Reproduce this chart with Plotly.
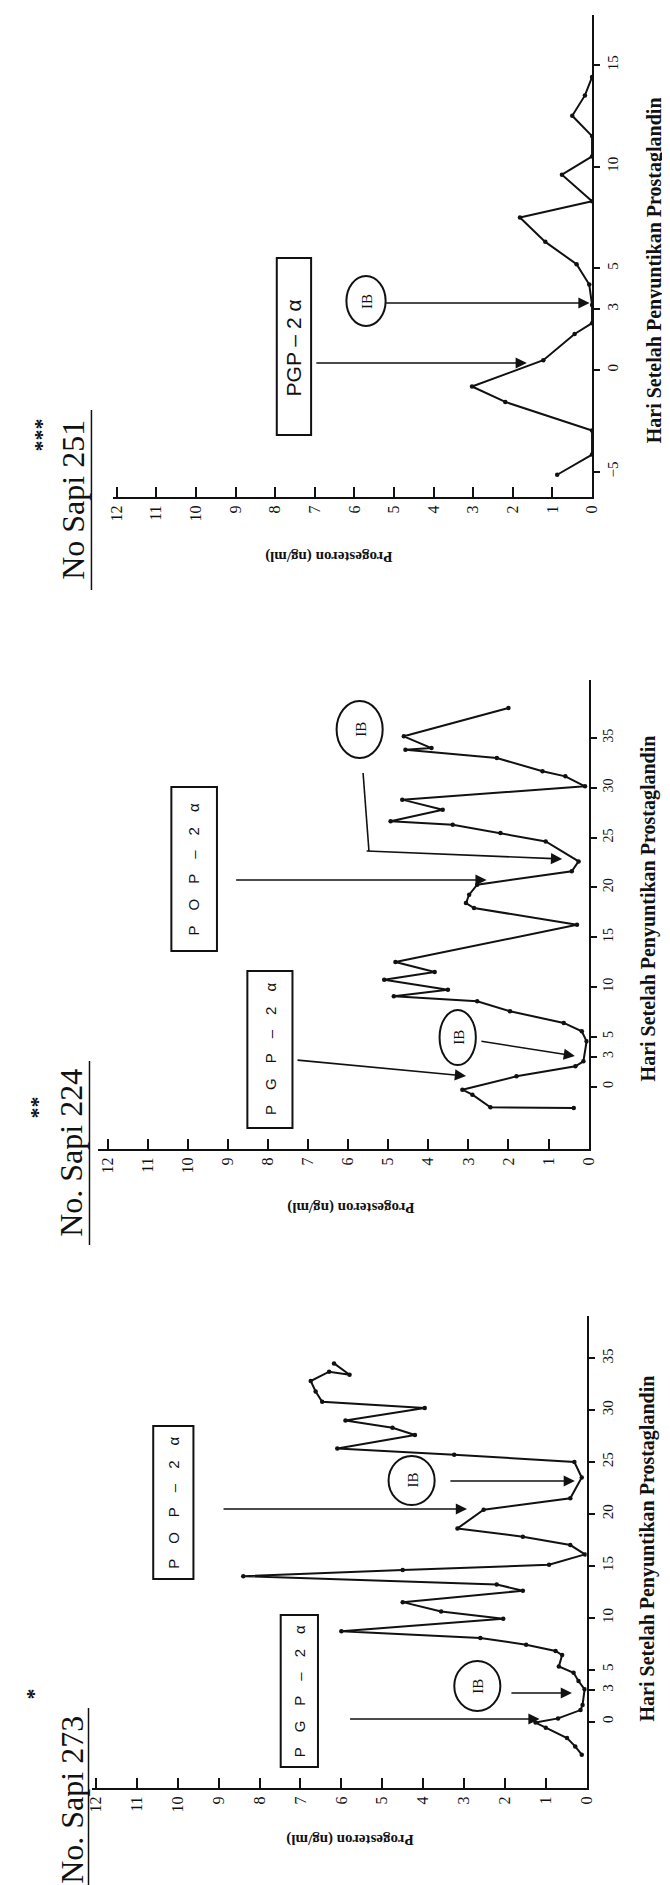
import plotly.graph_objects as go

W, H = 670, 1885

# ---------------- data (day after prostaglandin injection, progesterone ng/ml) -------------
days_251 = [-5.15, -4.16, -2.98, -1.57, -0.81, 0.48, 1.77, 2.3, 3.2, 4.2, 5.2, 6.3, 7.5,
            8.3, 9.6, 10.5, 11.5, 12.5, 13.5, 14.4]
prog_251 = [0.88, 0.0, 0.0, 2.19, 3.03, 1.23, 0.44, 0.0, 0.0, 0.07, 0.39, 1.18, 1.82,
            0.0, 0.76, 0.0, 0.0, 0.5, 0.18, 0.0]

days_224 = [-2.16, -2.09, -0.82, -0.32, 1.02, 2.03, 2.53, 4.54, 5.54, 6.38, 7.55, 8.55,
            9.06, 9.72, 10.72, 11.5, 12.5, 16.24, 17.92, 18.42, 19.26, 20.26, 21.6, 22.6,
            24.6, 25.45, 26.29, 26.63, 27.79, 28.8, 30.14, 31.14, 31.65, 32.98, 33.8,
            33.98, 35.16, 38.0]
prog_224 = [0.37, 2.45, 2.9, 3.15, 1.8, 0.33, 0.13, 0.05, 0.17, 0.62, 1.96, 2.78,
            4.86, 3.51, 5.1, 3.84, 4.82, 0.29, 2.86, 3.06, 2.98, 2.78, 0.42, 0.25,
            1.07, 2.2, 3.39, 4.94, 3.64, 4.65, 0.09, 0.58, 1.15, 2.29, 4.57,
            3.92, 4.61, 2.0]

days_273 = [-3.2, -2.4, -1.6, -0.6, -0.1, 0.3, 1.1, 1.6, 3.1, 3.9, 4.7, 5.3, 6.4, 6.8,
            7.4, 8.05, 8.7, 9.9, 10.6, 11.5, 12.6, 13.2, 14.0, 14.6, 15.1, 16.1, 17.0,
            17.8, 18.6, 20.4, 21.5, 23.5, 25.0, 25.7, 26.3, 27.6, 28.3, 29.0, 30.2,
            30.8, 31.8, 32.8, 33.7, 33.4, 34.5]
prog_273 = [0.12, 0.28, 0.48, 1.0, 1.25, 0.7, 0.15, 0.1, 0.05, 0.2, 0.32, 0.68, 0.6, 0.76,
            1.48, 2.6, 6.0, 2.04, 3.56, 4.5, 1.56, 2.2, 8.4, 4.5, 0.92, 0.04, 0.4,
            1.56, 3.16, 2.52, 0.4, 0.12, 0.3, 3.24, 6.1, 4.2, 4.75, 5.9, 3.96,
            6.47, 6.63, 6.75, 6.3, 5.8, 6.18]

prog_ticks = list(range(0, 13))
day_ticks_251 = [-5, 0, 3, 5, 10, 15]
day_ticks_224 = [0, 3, 5, 10, 15, 20, 25, 30, 35]
day_ticks_273 = [0, 3, 5, 10, 15, 20, 25, 30, 35]

titles = ["No Sapi 251", "No. Sapi 224", "No. Sapi 273"]
stars = ["***", "**", "*"]
prog_title = "Progesteron (ng/ml)"
day_title = "Hari Setelah Penyuntikan Prostaglandin"

# ---------------- helpers ----------------
def px(x):
    return x / W


def py(y):
    return 1 - y / H


SERIF = "Liberation Serif"
SANS = "Liberation Sans"

fig = go.Figure()

# panel layout in pixels: x-domain (left,right), prog range, y-domain (bottom,top), day range
panels = [
    dict(days=days_251, prog=prog_251, xd=(101.7, 590.5), xr=[12.1, 0],
         yd=(489, 7), yr=[(362 - 489) / 20.34, (362 - 7) / 20.34],
         dticks=day_ticks_251, dfont=15),
    dict(days=days_224, prog=prog_224, xd=(86.7, 587), xr=[12.24, 0],
         yd=(1141, 671.7), yr=[(1078.5 - 1141) / 9.96, (1078.5 - 671.7) / 9.96],
         dticks=day_ticks_224, dfont=14),
    dict(days=days_273, prog=prog_273, xd=(81, 585), xr=[12.09, 0],
         yd=(1780, 1308.3), yr=[(1713.5 - 1780) / 10.38, (1713.5 - 1308.3) / 10.38],
         dticks=day_ticks_273, dfont=15),
]

layout_axes = {}
for i, p in enumerate(panels, start=1):
    sx = "" if i == 1 else str(i)
    fig.add_trace(go.Scatter(
        x=p["prog"], y=p["days"], mode="lines+markers",
        line=dict(color="#111", width=2),
        marker=dict(size=4.5, color="#111"),
        xaxis="x" + sx, yaxis="y" + sx, showlegend=False, hoverinfo="skip"))
    layout_axes["xaxis" + sx] = dict(
        domain=[px(p["xd"][0]), px(p["xd"][1])], range=p["xr"], anchor="y" + sx,
        showline=True, linecolor="#111", linewidth=2, showgrid=False, zeroline=False,
        ticks="inside", ticklen=10, tickwidth=1.5, tickcolor="#111",
        tickvals=prog_ticks, tickangle=-90,
        tickfont=dict(family=SERIF, size=16, color="#111"))
    layout_axes["yaxis" + sx] = dict(
        domain=[py(p["yd"][0]), py(p["yd"][1])], range=p["yr"], anchor="x" + sx,
        side="right", showline=True, linecolor="#111", linewidth=2, showgrid=False,
        zeroline=False, ticks="outside", ticklen=6, tickwidth=1.5, tickcolor="#111",
        tickvals=p["dticks"], tickangle=-90,
        tickfont=dict(family=SERIF, size=p["dfont"], color="#111"))

annotations = []
shapes = []


def text(t, x, y, size, angle=-90, family=SERIF, bold=False):
    annotations.append(dict(
        text=("<b>%s</b>" % t) if bold else t, x=px(x), y=py(y), xref="paper",
        yref="paper", showarrow=False, textangle=angle, xanchor="center",
        yanchor="middle", font=dict(family=family, size=size, color="#111")))


def arrow(tail, tip):
    annotations.append(dict(
        text="", x=px(tip[0]), y=py(tip[1]), xref="paper", yref="paper",
        ax=tail[0] - tip[0], ay=tail[1] - tip[1], axref="pixel", ayref="pixel",
        showarrow=True, arrowhead=2, arrowsize=1.4, arrowwidth=1.6,
        arrowcolor="#111", standoff=0))


def line(x0, y0, x1, y1, w=1.6):
    shapes.append(dict(type="line", xref="paper", yref="paper", x0=px(x0), y0=py(y0),
                       x1=px(x1), y1=py(y1), line=dict(color="#111", width=w)))


def box(x0, y0, x1, y1, kind="rect"):
    shapes.append(dict(type=kind, xref="paper", yref="paper", x0=px(x0), y0=py(y1),
                       x1=px(x1), y1=py(y0), line=dict(color="#111", width=2)))


SP = "\u2003"
pgp_sp = SP.join(["P", "G", "P", "–", "2", "α"])
pop_sp = SP.join(["P", "O", "P", "–", "2", "α"])

# ---- panel 251 ----
text(titles[0], 61, 492, 32)
line(80, 402, 80, 582, 1.5)
text(stars[0], 29, 427, 22, bold=True)
text(prog_title, 322, 548, 15, angle=180, bold=True)
text(day_title, 655, 262, 20, bold=True)
box(269, 250, 304, 427)
text("PGP – 2 α", 287, 340, 21, family=SANS)
box(340, 268, 380, 318, "circle")
text("IB", 361, 293, 15)
arrow((383, 295), (588, 295))
arrow((312, 355), (524, 355))

# ---- panel 224 ----
text(titles[1], 59, 1145, 32)
line(78, 1053, 78, 1237, 1.5)
text(stars[1], 24, 1100, 22, bold=True)
text(prog_title, 345, 1200, 15, angle=180, bold=True)
text(day_title, 648, 900, 20, bold=True)
box(239, 963, 285, 1120)
text(pgp_sp, 262, 1041, 15, family=SANS)
box(161.5, 779, 208, 943)
text(pop_sp, 185, 861, 15, family=SANS)
box(435, 1002, 472, 1057, "circle")
text("IB", 454, 1029.5, 15)
box(330, 693, 377, 750, "circle")
text("IB", 354, 721.5, 15)
arrow((292, 1052), (462, 1068))
arrow((478, 1033), (573, 1048))
arrow((231, 872), (483, 872))
line(357, 765, 363, 843)
arrow((363, 843), (560, 851))

# ---- panel 273 ----
text(titles[2], 60, 1792, 32)
line(77, 1700, 77, 1883, 1.5)
text(stars[2], 20, 1686, 22, bold=True)
text(prog_title, 344, 1832, 15, angle=180, bold=True)
text(day_title, 647, 1540, 20, bold=True)
box(273, 1607, 311, 1759)
text(pgp_sp, 292, 1683, 15, family=SANS)
box(143, 1418, 184, 1571)
text(pop_sp, 163.5, 1494.5, 15, family=SANS)
box(450, 1653, 497, 1703, "circle")
text("IB", 474, 1678, 15)
box(383, 1448, 430, 1497, "circle")
text("IB", 407, 1472.5, 15)
arrow((346, 1711), (537, 1711))
arrow((508, 1685), (570, 1685))
arrow((218, 1501), (463, 1501))
arrow((447, 1473), (573, 1473))

fig.update_layout(
    width=W, height=H, autosize=False,
    margin=dict(l=0, r=0, t=0, b=0),
    paper_bgcolor="white", plot_bgcolor="rgba(0,0,0,0)",
    showlegend=False, annotations=annotations, shapes=shapes,
    **layout_axes)

fig.write_html("out.html")
